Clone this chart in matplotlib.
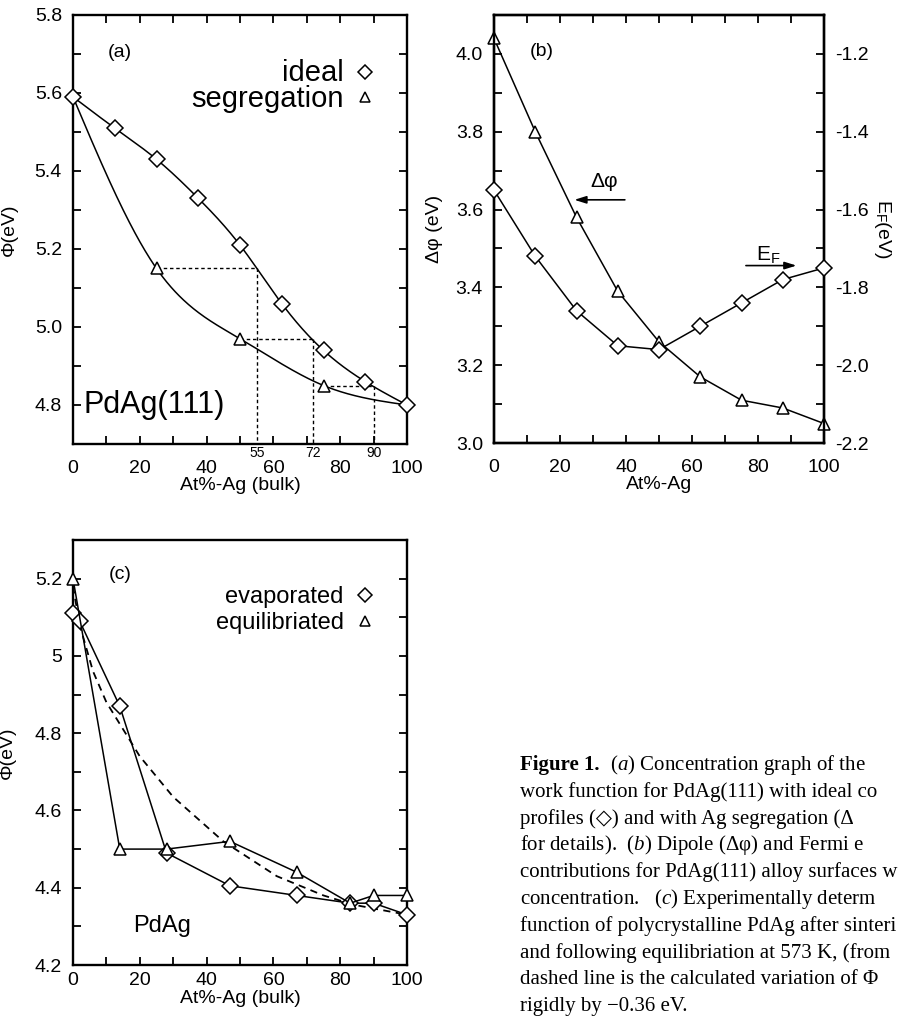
import numpy as np
import matplotlib
matplotlib.use("Agg")
import matplotlib.pyplot as plt
from matplotlib.ticker import MultipleLocator, FormatStrFormatter, FuncFormatter

plt.rcParams['font.family'] = ['Liberation Sans', 'DejaVu Sans']
plt.rcParams['axes.unicode_minus'] = False
plt.rcParams['mathtext.fontset'] = 'custom'
plt.rcParams['mathtext.rm'] = 'Liberation Serif'
plt.rcParams['mathtext.it'] = 'Liberation Serif:italic'

# ---------------- data ----------------
# panel (a)
a_x_ideal = [0, 12.5, 25, 37.5, 50, 62.5, 75, 87.5, 100]
a_ideal = [5.59, 5.51, 5.43, 5.33, 5.21, 5.06, 4.94, 4.86, 4.80]
a_x_seg = [0, 25, 50, 75, 100]
a_seg = [5.59, 5.15, 4.97, 4.85, 4.80]
a_guide_from = [25, 50, 75]
a_guide_to = [55, 72, 90]
a_guide_y = [5.15, 4.97, 4.85]
a_guide_labels = ['55', '72', '90']

# panel (b)
b_x = [0, 12.5, 25, 37.5, 50, 62.5, 75, 87.5, 100]
b_dphi = [4.04, 3.80, 3.58, 3.39, 3.26, 3.17, 3.11, 3.09, 3.05]
b_ef = [-1.55, -1.72, -1.86, -1.95, -1.96, -1.90, -1.84, -1.78, -1.75]

# panel (c)
c_x_evap = [0, 2, 14, 28, 47, 67, 83, 90, 100]
c_evap = [5.11, 5.09, 4.87, 4.49, 4.405, 4.38, 4.36, 4.36, 4.33]
c_x_equi = [0, 14, 28, 47, 67, 83, 90, 100]
c_equi = [5.20, 4.50, 4.50, 4.52, 4.44, 4.36, 4.38, 4.38]
c_x_calc = [0, 2, 6, 10, 20, 30, 45, 61, 75, 84, 100]
c_calc = [5.18, 5.08, 4.96, 4.88, 4.74, 4.635, 4.52, 4.43, 4.38, 4.356, 4.33]

caption_lines = [
    "  ($\\mathit{a}$) Concentration graph of the",
    "work function for PdAg(111) with ideal co",
    "profiles (\u25c7) and with Ag segregation (\u0394",
    "for details).  ($\\mathit{b}$) Dipole (\u0394\u03c6) and Fermi e",
    "contributions for PdAg(111) alloy surfaces w",
    "concentration.   ($\\mathit{c}$) Experimentally determ",
    "function of polycrystalline PdAg after sinteri",
    "and following equilibriation at 573 K, (from",
    "dashed line is the calculated variation of \u03a6",
    "rigidly by \u22120.36 eV.",
]


def natural_spline(x, y, xs):
    x = np.asarray(x, float)
    y = np.asarray(y, float)
    n = len(x)
    h = np.diff(x)
    A = np.zeros((n, n))
    r = np.zeros(n)
    A[0, 0] = A[-1, -1] = 1
    for i in range(1, n - 1):
        A[i, i - 1] = h[i - 1]
        A[i, i] = 2 * (h[i - 1] + h[i])
        A[i, i + 1] = h[i]
        r[i] = 6 * ((y[i + 1] - y[i]) / h[i] - (y[i] - y[i - 1]) / h[i - 1])
    M = np.linalg.solve(A, r)
    idx = np.clip(np.searchsorted(x, xs) - 1, 0, n - 2)
    x0, x1 = x[idx], x[idx + 1]
    hh = x1 - x0
    t0 = x1 - xs
    t1 = xs - x0
    return (M[idx] * t0 ** 3 / (6 * hh) + M[idx + 1] * t1 ** 3 / (6 * hh)
            + (y[idx] / hh - M[idx] * hh / 6) * t0
            + (y[idx + 1] / hh - M[idx + 1] * hh / 6) * t1)


W, H = 899, 1021
fig = plt.figure(figsize=(W / 100, H / 100), dpi=100)


def box(l, t, r, b):
    return [l / W, 1 - b / H, (r - l) / W, (b - t) / H]


TICK = 14
mk = dict(markersize=8, markerfacecolor='white', markeredgecolor='black',
          markeredgewidth=1.1, color='black', lw=1.1, clip_on=False, zorder=4)
mko = {k: v for k, v in mk.items() if k != 'lw'}


def style(ax, top=True, right=True):
    for s in ax.spines.values():
        s.set_linewidth(1.7)
    ax.tick_params(which='both', direction='in', top=top, right=right,
                   length=6, width=1.3, labelsize=TICK)
    ax.tick_params(axis='y', pad=8)


# ---------------- panel (a) ----------------
ax = fig.add_axes(box(73, 15, 407, 444))
style(ax)
xs = np.linspace(0, 100, 400)
ax.plot(xs, natural_spline(a_x_ideal, a_ideal, xs), color='black', lw=1.1)
ax.plot(a_x_ideal, a_ideal, ls='none', marker='D', **mko)
ax.plot(xs, natural_spline(a_x_seg, a_seg, xs), color='black', lw=1.1)
ax.plot(a_x_seg[1:-1], a_seg[1:-1], ls='none', marker='^', **mko)
for x0, x1, yv, lab in zip(a_guide_from, a_guide_to, a_guide_y, a_guide_labels):
    ax.plot([x0, x1], [yv, yv], color='black', lw=1.0, ls=(0, (2.5, 2)))
    ax.plot([x1, x1], [yv, 4.7], color='black', lw=1.0, ls=(0, (2.5, 2)))
    ax.text(x1, -0.004, lab, transform=ax.get_xaxis_transform(), ha='center',
            va='top', fontsize=10)
ax.set_xlim(0, 100)
ax.set_ylim(4.7, 5.8)
ax.xaxis.set_major_locator(MultipleLocator(20))
ax.xaxis.set_minor_locator(MultipleLocator(10))
ax.yaxis.set_major_locator(MultipleLocator(0.2))
ax.yaxis.set_minor_locator(MultipleLocator(0.1))
ax.yaxis.set_major_formatter(FormatStrFormatter('%.1f'))
ax.tick_params(axis='x', pad=11.5)
ax.set_ylabel('\u03a6(eV)', fontsize=14)
ax.yaxis.set_label_coords(-0.165, 0.5)
ax.set_xlabel('At%-Ag (bulk)', fontsize=14)
ax.xaxis.set_label_coords(0.5, -0.077)
ax.text(14, 5.703, '(a)', fontsize=14, ha='center', va='center')
ax.text(81, 5.652, 'ideal', fontsize=21, ha='right', va='center')
ax.text(81, 5.585, 'segregation', fontsize=21, ha='right', va='center')
ax.plot([87.4], [5.655], marker='D', markersize=7, ls='none', mfc='white', mec='black', mew=1.1)
ax.plot([87.4], [5.59], marker='^', markersize=7, ls='none', mfc='white', mec='black', mew=1.1)
ax.text(3, 4.8, 'PdAg(111)', fontsize=22, ha='left', va='center')

# ---------------- panel (b) ----------------
bx = fig.add_axes(box(494, 15, 824, 443))
style(bx, right=False)
bx.plot(b_x, b_dphi, marker='^', **mk)
bx.set_xlim(0, 100)
bx.set_ylim(3.0, 4.1)
bx.xaxis.set_major_locator(MultipleLocator(20))
bx.xaxis.set_minor_locator(MultipleLocator(10))
bx.yaxis.set_major_locator(MultipleLocator(0.2))
bx.yaxis.set_minor_locator(MultipleLocator(0.1))
bx.yaxis.set_major_formatter(FormatStrFormatter('%.1f'))
bx.tick_params(axis='x', pad=11.5)
bx.set_ylabel('\u0394\u03c6 (eV)', fontsize=14)
bx.yaxis.set_label_coords(-0.155, 0.5)
bx.set_xlabel('At%-Ag', fontsize=14)
bx.xaxis.set_label_coords(0.5, -0.077)
bx2 = bx.twinx()
bx2.plot(b_x, b_ef, marker='D', **mk)
bx2.set_ylim(-2.2, -1.1)
bx2.yaxis.set_major_locator(MultipleLocator(0.2))
bx2.yaxis.set_minor_locator(MultipleLocator(0.1))
bx2.yaxis.set_major_formatter(FormatStrFormatter('%.1f'))
for s in bx2.spines.values():
    s.set_linewidth(1.7)
bx2.tick_params(which='both', direction='in', length=6, width=1.3, labelsize=TICK, pad=8)
bx2.set_ylabel('E$_\\mathregular{F}$(eV)', fontsize=14, rotation=-90,
               va='center', ha='center')
bx2.yaxis.set_label_coords(1.176, 0.5)
bx.text(14.5, 4.005, '(b)', fontsize=14, ha='center', va='center')
bx.text(33.5, 3.672, '\u0394\u03c6', fontsize=15, ha='center', va='center')
bx.annotate('', xy=(23.5, 3.625), xytext=(40.5, 3.625),
            arrowprops=dict(arrowstyle='-|>,head_length=0.7,head_width=0.22',
                            color='black', lw=1.2))
bx.text(83, 3.485, 'E$_\\mathregular{F}$', fontsize=15, ha='center', va='center')
bx.annotate('', xy=(92.5, 3.456), xytext=(75.5, 3.456),
            arrowprops=dict(arrowstyle='-|>,head_length=0.7,head_width=0.22',
                            color='black', lw=1.2))

# ---------------- panel (c) ----------------
cx = fig.add_axes(box(73, 540, 407, 965))
style(cx, top=False)
cx.plot(c_x_evap, c_evap, marker='D', **mk)
cx.plot(c_x_equi, c_equi, marker='^', **mk)
cx.plot(c_x_calc, c_calc, color='black', lw=1.3, ls=(0, (4, 3)))
cx.set_xlim(0, 100)
cx.set_ylim(4.2, 5.3)
cx.xaxis.set_major_locator(MultipleLocator(20))
cx.xaxis.set_minor_locator(MultipleLocator(10))
cx.yaxis.set_major_locator(MultipleLocator(0.2))
cx.yaxis.set_minor_locator(MultipleLocator(0.1))
cx.yaxis.set_major_formatter(FuncFormatter(lambda v, p: f'{round(v, 3):g}'))
cx.tick_params(axis='x', pad=5)
cx.set_ylabel('\u03a6(eV)', fontsize=14)
cx.yaxis.set_label_coords(-0.17, 0.5)
cx.set_xlabel('At%-Ag (bulk)', fontsize=14)
cx.xaxis.set_label_coords(0.5, -0.058)
cx.text(14.2, 5.21, '(c)', fontsize=14, ha='center', va='center')
cx.text(81, 5.153, 'evaporated', fontsize=17, ha='right', va='center')
cx.text(81, 5.086, 'equilibriated', fontsize=17, ha='right', va='center')
cx.plot([87.4], [5.158], marker='D', markersize=7, ls='none', mfc='white', mec='black', mew=1.1)
cx.plot([87.4], [5.09], marker='^', markersize=7, ls='none', mfc='white', mec='black', mew=1.1)
cx.text(18, 4.30, 'PdAg', fontsize=17, ha='left', va='center')

# ---------------- caption ----------------
cap_fam = ['Liberation Serif', 'DejaVu Sans']
CAP = 15
x0 = 520 / W
base = 770
step = 26.8
t1 = fig.text(x0, 1 - base / H, 'Figure 1.', fontsize=CAP, family=cap_fam,
              fontweight='bold', va='baseline', ha='left')
fig.canvas.draw()
bb = t1.get_window_extent()
fig.text(bb.x1 / W, 1 - base / H, caption_lines[0], fontsize=CAP, family=cap_fam,
         va='baseline', ha='left')
for i, line in enumerate(caption_lines[1:], start=1):
    fig.text(x0, 1 - (base + i * step) / H, line, fontsize=CAP, family=cap_fam,
             va='baseline', ha='left')

fig.savefig('out.png', dpi=100)
